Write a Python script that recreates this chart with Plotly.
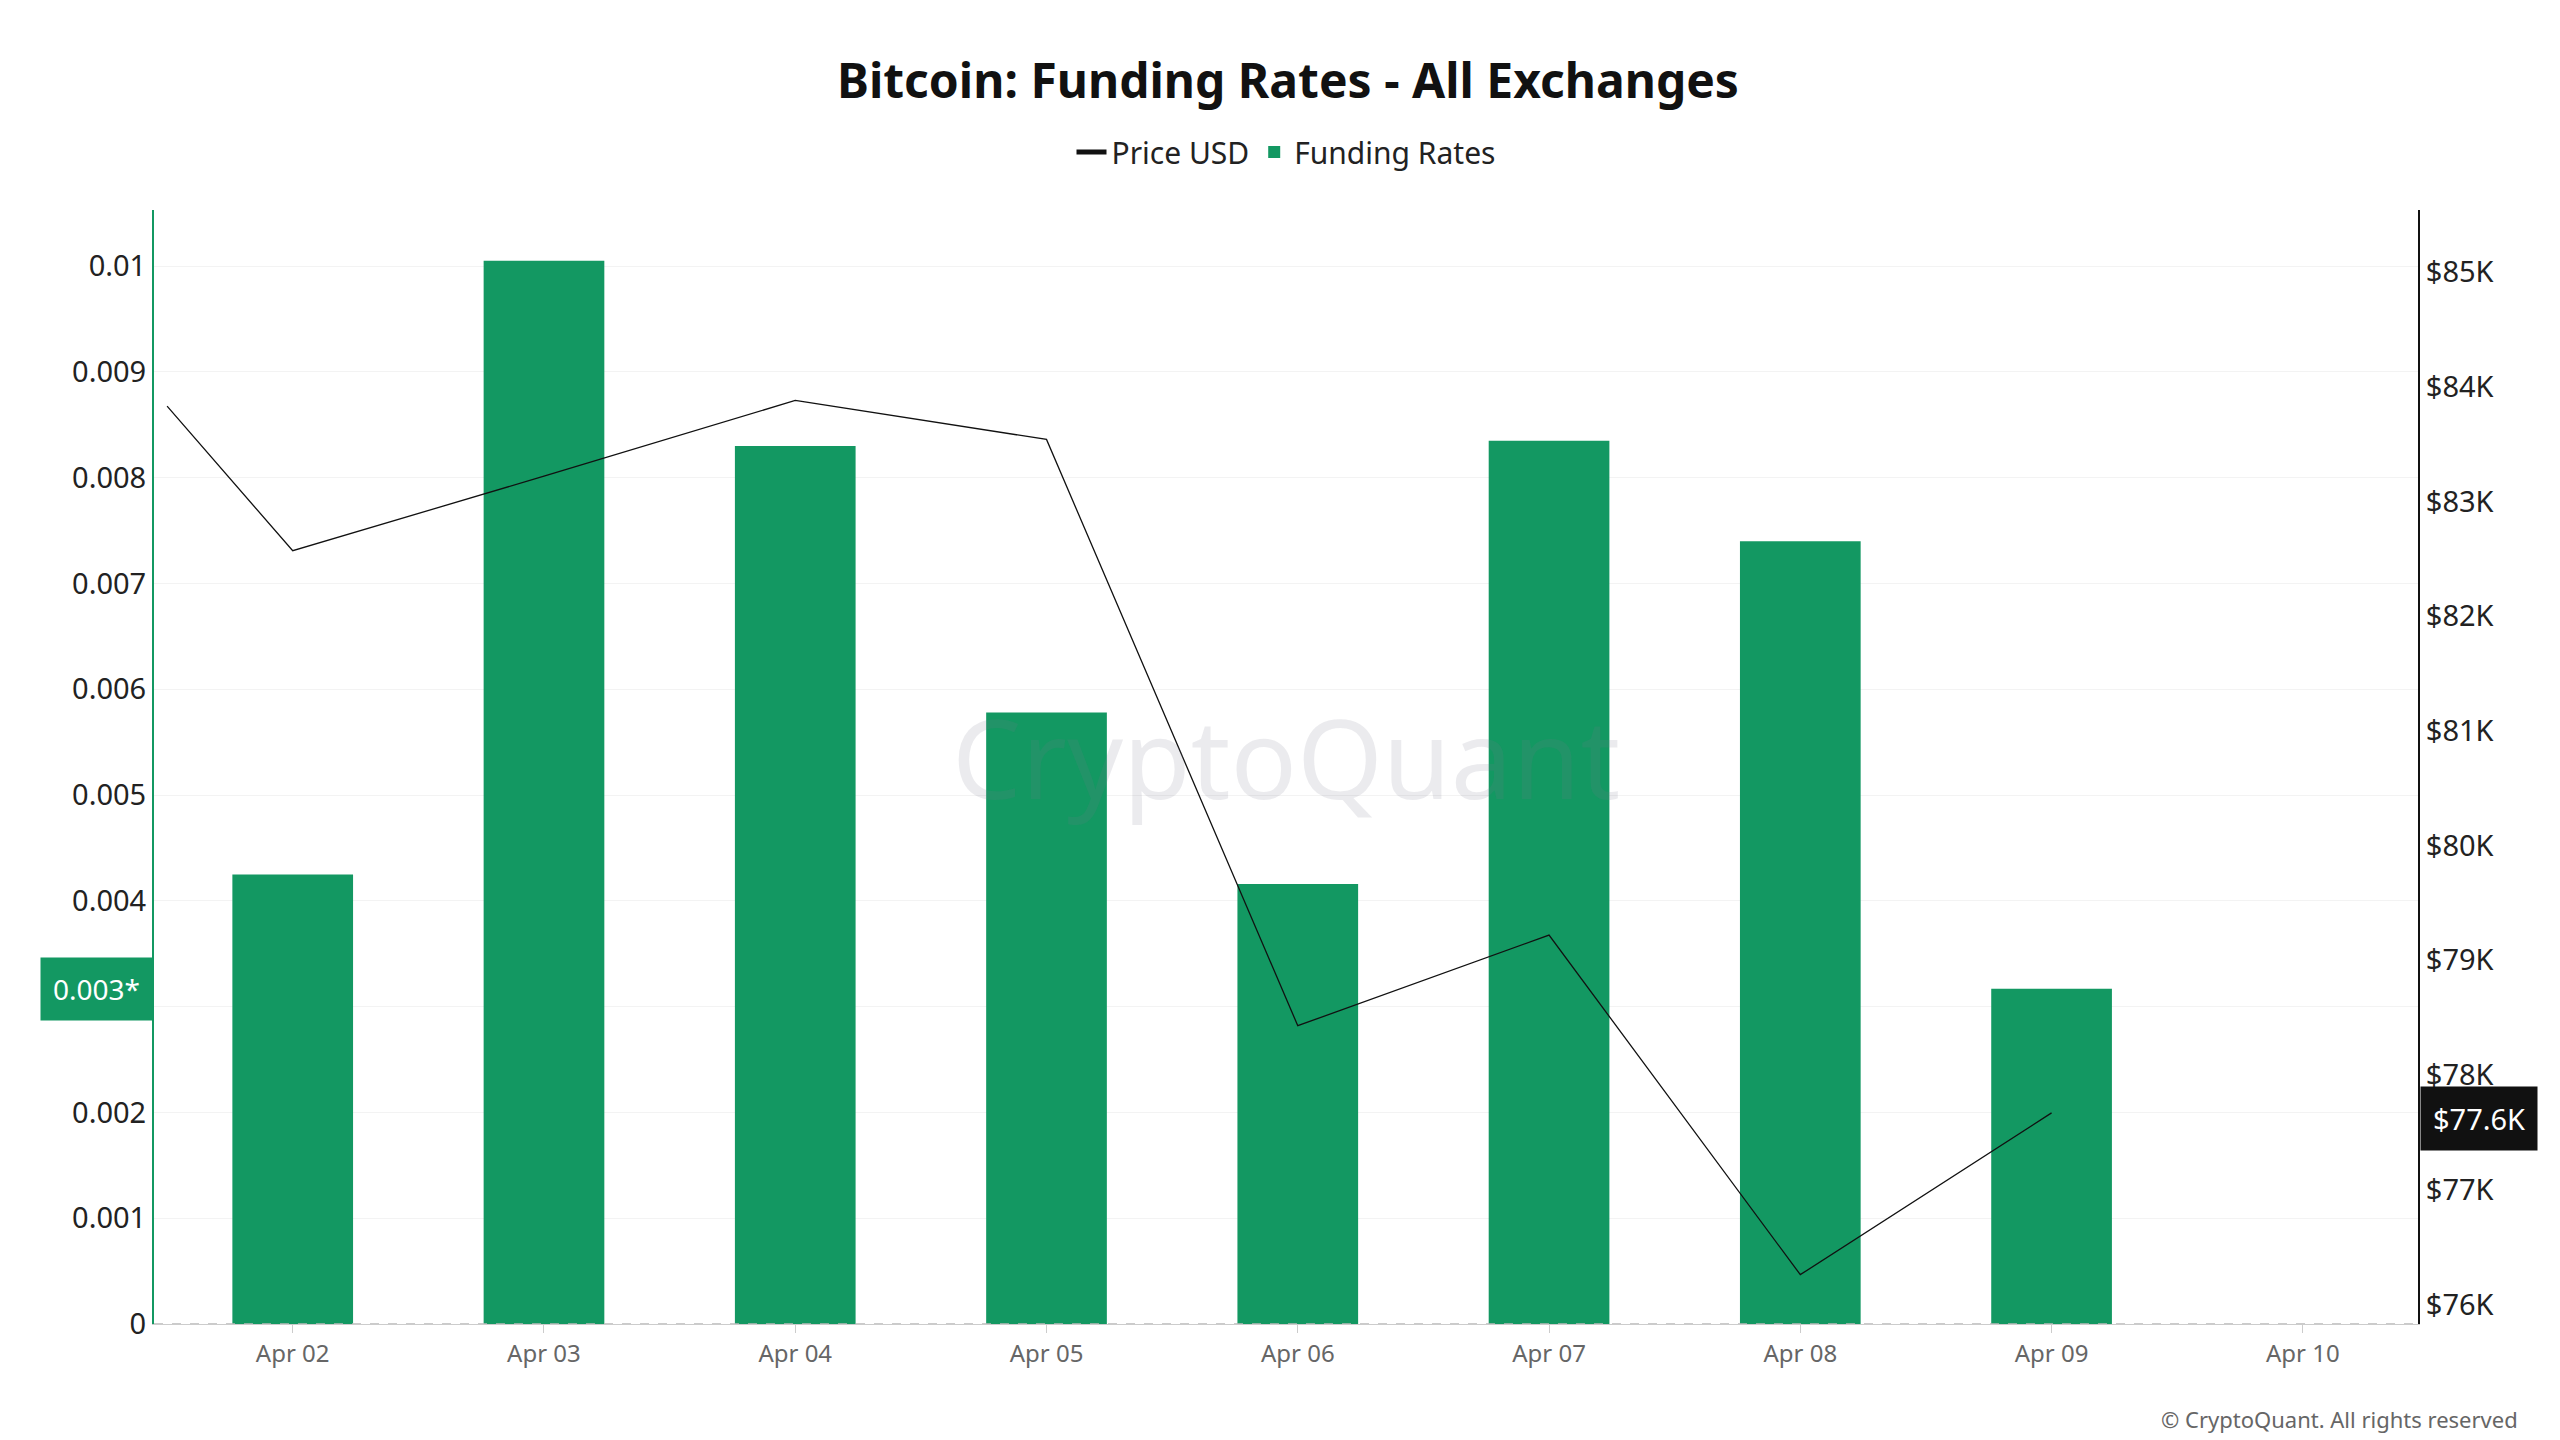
import plotly.graph_objects as go

# Funding rates (daily bars)
bar_dates = ['2025-04-02', '2025-04-03', '2025-04-04', '2025-04-05',
             '2025-04-06', '2025-04-07', '2025-04-08', '2025-04-09']
funding_rates = [0.00425, 0.01005, 0.0083, 0.00578, 0.00416, 0.00835, 0.0074, 0.00317]

# BTC price (USD)
price_dates = ['2025-04-01 12:00', '2025-04-02', '2025-04-03', '2025-04-04', '2025-04-05',
               '2025-04-06', '2025-04-07', '2025-04-08', '2025-04-09']
price_usd = [83830, 82570, 83220, 83880, 83540, 78430, 79220, 76260, 77670]

left_ticks = [0, 0.001, 0.002, 0.003, 0.004, 0.005, 0.006, 0.007, 0.008, 0.009, 0.01]
right_ticks = [76000, 77000, 78000, 79000, 80000, 81000, 82000, 83000, 84000, 85000]
right_labels = ['$76K', '$77K', '$78K', '$79K', '$80K', '$81K', '$82K', '$83K', '$84K', '$85K']

GREEN = '#139862'
FONT = 'Noto Sans'

fig = go.Figure()
fig.add_trace(go.Bar(
    x=bar_dates, y=funding_rates, name='Funding Rates',
    marker=dict(color=GREEN, line=dict(width=0)), width=41.5e6, yaxis='y',
))
fig.add_trace(go.Scatter(
    x=price_dates, y=price_usd, name='Price USD', mode='lines',
    line=dict(color='#111111', width=1.3), yaxis='y2',
))

fig.update_layout(
    width=2560, height=1440,
    paper_bgcolor='white', plot_bgcolor='white',
    font=dict(family=FONT, color='#222222'),
    margin=dict(l=146, r=150, t=202, b=124),
    title=dict(text='<b>Bitcoin: Funding Rates - All Exchanges</b>', x=0.5, xanchor='center',
               yref='container', y=0.949, yanchor='middle', font=dict(size=48, color='#111111')),
    legend=dict(orientation='h', x=0.5, xanchor='center', y=1.052, yanchor='middle',
                font=dict(size=30, color='#222222'), traceorder='reversed',
                itemsizing='constant'),
    bargap=0.5,
    xaxis=dict(
        type='date', range=['2025-04-01 10:45', '2025-04-10 11:00'],
        tickformat='%b %d', dtick=86400000, tick0='2025-04-02',
        tickfont=dict(size=24, color='#666666'), showgrid=False,
        ticks='outside', ticklen=8, tickcolor='#cccccc',
        showline=True, linecolor='#cccccc', zeroline=False,
    ),
    yaxis=dict(
        range=[0, 0.01053], tickvals=left_ticks,
        ticktext=['0', '0.001', '0.002', '0.003', '0.004', '0.005', '0.006', '0.007', '0.008', '0.009', '0.01'],
        tickfont=dict(size=29, color='#222222'), showgrid=True, gridcolor='#f3f3f3',
        showline=True, linecolor=GREEN, linewidth=2, zeroline=False, ticks='',
    ),
    yaxis2=dict(
        overlaying='y', side='right', range=[75830, 85540],
        tickvals=right_ticks, ticktext=right_labels,
        tickfont=dict(size=29, color='#222222'), showgrid=False,
        showline=True, linecolor='#111111', linewidth=2, zeroline=False, ticks='',
    ),
)

# dashed zero line
fig.add_shape(type='line', xref='paper', yref='y', x0=0, x1=1, y0=0, y1=0,
              line=dict(color='#bbbbbb', width=1.5, dash='dash'))

# current value labels
fig.add_annotation(xref='paper', yref='y', x=0, y=0.00317, xanchor='right', yanchor='middle',
                   text='0.003*', showarrow=False, bgcolor=GREEN, font=dict(size=28, color='white'),
                   borderpad=12, xshift=-1)
fig.add_annotation(xref='paper', yref='y2', x=1, y=77620, xanchor='left', yanchor='middle',
                   text='$77.6K', showarrow=False, bgcolor='#111111', font=dict(size=29, color='white'),
                   borderpad=12, xshift=2)

# watermark
fig.add_annotation(xref='paper', yref='paper', x=0.5, y=0.51, text='CryptoQuant', showarrow=False,
                   font=dict(size=110, color='rgba(120,120,140,0.15)'))

fig.add_annotation(xref='paper', yref='paper', x=1.045, y=-0.085, xanchor='right', yanchor='middle',
                   text='© CryptoQuant. All rights reserved', showarrow=False,
                   font=dict(size=22, color='#666666'))

fig.write_html('out.html')
